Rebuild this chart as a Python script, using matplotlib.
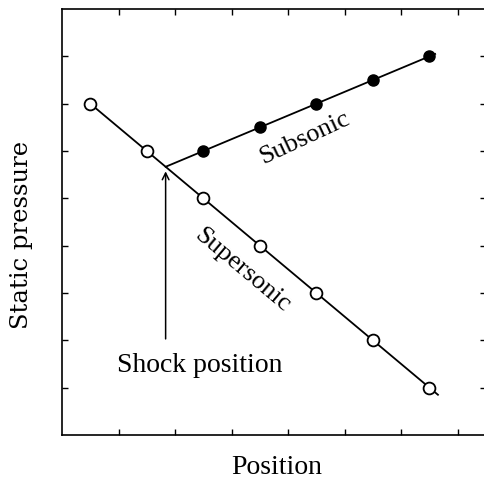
import matplotlib
matplotlib.use("Agg")
import matplotlib.pyplot as plt
import numpy as np

# Data (positions in tick units, pressure in tick units)
super_x = [0.5, 1.5, 2.5, 3.5, 4.5, 5.5, 6.5]
super_y = [7, 6, 5, 4, 3, 2, 1]
sub_x = [2.5, 3.5, 4.5, 5.5, 6.5]
sub_y = [6.0, 6.5, 7.0, 7.5, 8.0]
shock_x = 1.833
shock_y = 5.667

serif = ['Liberation Serif', 'DejaVu Serif']

fig = plt.figure(figsize=(4.84, 4.89), dpi=100)
ax = fig.add_axes([62/484, 53/489, 424/484, 426/489])
ax.set_xlim(0, 7.5)
ax.set_ylim(0, 9)

# Fit lines
sx = np.array(super_x); sy = np.array(super_y)
p_sup = np.polyfit(sx, sy, 1)
bx = np.array(sub_x); by = np.array(sub_y)
p_sub = np.polyfit(bx, by, 1)

lx = np.array([0.45, 6.65])
ax.plot(lx, np.polyval(p_sup, lx), color='black', lw=1.3, zorder=2)
lx2 = np.array([shock_x, 6.6])
ax.plot(lx2, np.polyval(p_sub, lx2), color='black', lw=1.3, zorder=2)

ax.plot(super_x, super_y, 'o', mfc='white', mec='black', mew=1.3, ms=8.5, zorder=3)
ax.plot(sub_x, sub_y, 'o', mfc='black', mec='black', ms=8, zorder=3)

ax.annotate('', xy=(shock_x, 5.57), xytext=(shock_x, 2.03),
            arrowprops=dict(arrowstyle='->', color='black', lw=1.1,
                            shrinkA=0, shrinkB=0, mutation_scale=12))

ax.text(2.44, 1.50, 'Shock position', ha='center', va='center', fontsize=20, family=serif)
ax.text(3.19, 3.50, 'Supersonic', ha='center', va='center', fontsize=19, family=serif, rotation=-40,
        rotation_mode='anchor')
ax.text(4.30, 6.29, 'Subsonic', ha='center', va='center', fontsize=19, family=serif, rotation=25,
        rotation_mode='anchor')

ax.set_xticks(np.arange(1, 8))
ax.set_yticks(np.arange(1, 9))
ax.tick_params(direction='in', length=4, width=1, top=True, right=True,
               labelbottom=False, labelleft=False)
for s in ax.spines.values():
    s.set_linewidth(1.2)

fig.text(277/484, 1 - 468/489, 'Position', ha='center', va='center', fontsize=20, family=serif)
fig.text(22/484, 1 - 235/489, 'Static pressure', ha='center', va='center', fontsize=17.5,
         family=['DejaVu Serif'], rotation=90)

fig.savefig('out.png', dpi=100)
